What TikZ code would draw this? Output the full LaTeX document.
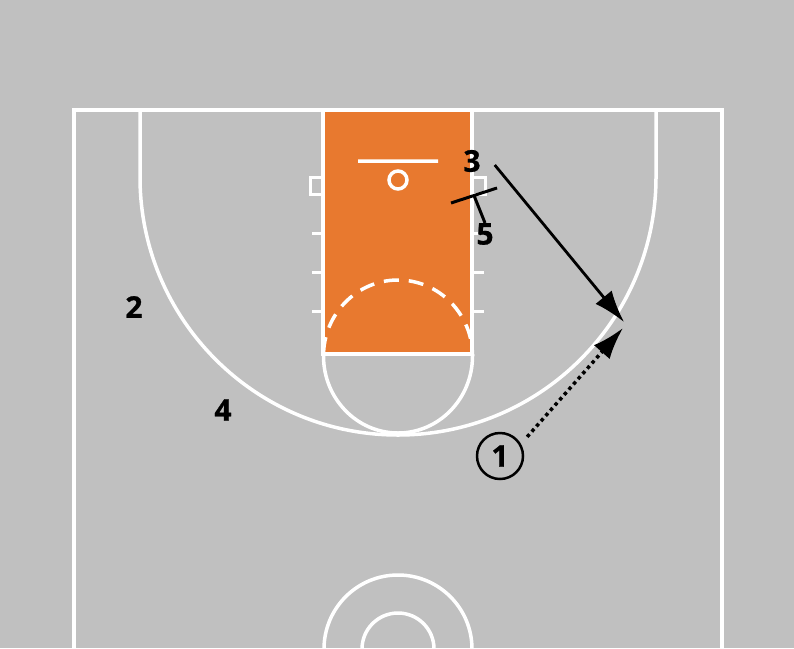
\documentclass[tikz,border=0pt]{standalone}
\usepackage{fontspec}
\setmainfont{Open Sans}[BoldFeatures={FakeBold=0.8}]
\usetikzlibrary{calc}
\usetikzlibrary{arrows.meta}
\definecolor{floor}{RGB}{192,192,192}
\definecolor{paint}{RGB}{232,121,47}
\begin{document}
\begin{tikzpicture}[x=1pt,y=-1pt,>={Latex[length=32pt,width=21pt]},
    line/.style={white,line width=3.5pt},
    player/.style={font=\fontsize{30}{30}\selectfont\bfseries,inner sep=0pt},
    cut/.style={black,line width=2.8pt,->},
    pass/.style={black,line width=3.5pt,dash pattern=on 3.5pt off 3.5pt,->}]
    \pgfmathsetmacro{\cx}{398}
    \pgfmathsetmacro{\r}{258}
    \pgfmathsetmacro{\ft}{74.5}
    \fill[floor] (0,0) rectangle (794,648);
    \useasboundingbox (0,0) rectangle (794,648);
    \clip (0,0) rectangle (794,648);
    % paint
    \fill[paint] (323,110) rectangle (472,354);
    \draw[line] (323,110) rectangle (472,354);
    \draw[line] (74,700) -- (74,110) -- (722,110) -- (722,700);
    \draw[line] (140,110) -- (140,177) arc[start angle=180,end angle=0,radius=\r] -- (656,110);
    \draw[line] (\cx+\ft,354) -- (\cx+\ft,356) arc[start angle=0,end angle=180,x radius=\ft,y radius=77] -- (\cx-\ft,354);
    \draw[line,dash pattern=on 15pt off 10pt,dash phase=-4pt] (\cx-\ft,356) arc[start angle=180,end angle=360,x radius=\ft,y radius=76];
    \draw[line] (358,161) -- (438,161) (\cx,180) circle[radius=9];
    \draw[line,line width=3pt] (310,177) rectangle (323,194) (472,177) rectangle (485,194);
    \foreach \y in {233,272,311}
        \draw[line,line width=3pt] (312,\y) -- (323,\y) (472,\y) -- (484,\y);
    \draw[line] (\cx,649) circle[radius=74] (\cx,649) circle[radius=36];
    % players
    \node[player] (p3) at (472,161) {3};
    \node[player] (p5) at (485,234) {5};
    \node[player] (p2) at (134,307) {2};
    \node[player] (p4) at (223,410) {4};
    \node[player,circle,draw,line width=2.5pt,minimum size=46pt] (p1) at (500,456) {1};
    \coordinate (scr) at (474,195.5);
    \coordinate (spot) at (624,322);
    \coordinate (spot2) at (623,328);
    \draw[black,line width=3pt] ($(scr)+(-23,7.5)$) -- ($(scr)+(23,-7.5)$) (p5.north) -- (scr);
    \draw[cut] ($(p3.east)+(14,4)$) -- (spot);
    \draw[pass] ($(p1.north east)+(10,-2)$) -- (spot2);
\end{tikzpicture}
\end{document}
